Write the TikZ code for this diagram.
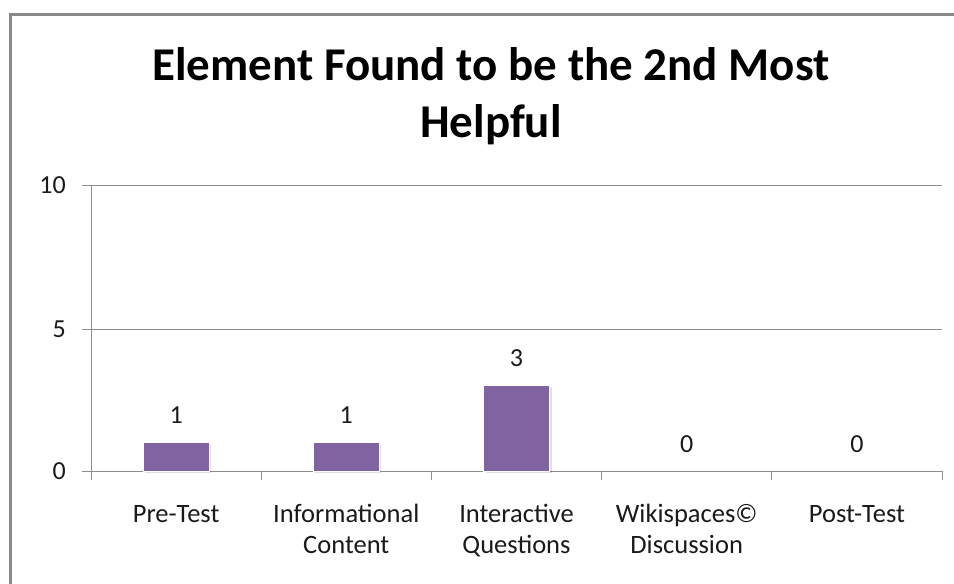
\documentclass[tikz,border=0pt]{standalone}
\usepackage{fontspec}
\setmainfont{Carlito}
\definecolor{barpurple}{HTML}{8064A2}
\definecolor{gridgray}{HTML}{8C8C8C}
\definecolor{framegray}{HTML}{8A8A8A}
\definecolor{txt}{HTML}{1A1A1A}
\begin{document}
\begin{tikzpicture}[x=1pt,y=-1pt,
  frameline/.style={draw=framegray,line width=2.5pt},
  gridline/.style={draw=gridgray,line width=1pt},
  bar/.style={fill=barpurple,draw=white,line width=0.8pt},
  barshadow/.style={fill=black,opacity=0.12,draw=none},
  ticklab/.style={font=\fontsize{26}{30}\selectfont,text=txt,anchor=east,inner sep=0pt},
  vallab/.style={font=\fontsize{26}{30}\selectfont,text=txt,inner sep=0pt},
  catlab/.style={font=\fontsize{26.5}{31.5}\selectfont,text=txt,align=center,anchor=base,inner sep=0pt},
  titlelab/.style={font=\bfseries\fontsize{47}{57}\selectfont,text=black,align=center,anchor=base,inner sep=0pt}]
\useasboundingbox (0,0) rectangle (954,584);
\fill[white] (0,0) rectangle (954,584);
% frame
\coordinate (fbl) at (10.5,590);
\coordinate (ftl) at (10.5,14.5);
\coordinate (ftr) at (960,14.5);
\draw[frameline] (fbl) -- (ftl) -- (ftr);
% title (base anchor = baseline of last line)
\node[titlelab] (title) at (491,137) {Element Found to be the 2nd Most\\Helpful};
% grid
\coordinate (g10l) at (82,185); \coordinate (g10r) at (942,185);
\coordinate (g5l) at (82,329);  \coordinate (g5r) at (942,329);
\coordinate (g0l) at (82,471);  \coordinate (g0r) at (942,471);
\coordinate (yaxt) at (91,185); \coordinate (yaxb) at (91,480);
\draw[gridline] (g10l) -- (g10r);
\draw[gridline] (g5l) -- (g5r);
\draw[gridline] (g0l) -- (g0r);
\draw[gridline] (yaxt) -- (yaxb);
\foreach \i in {1,...,5}{
  \coordinate (tt\i) at ({91+170.2*\i},471);
  \coordinate (tb\i) at ({91+170.2*\i},480);
  \draw[gridline] (tt\i) -- (tb\i);
}
\node[ticklab] (l10) at (66,185) {10};
\node[ticklab] (l5) at (66,329) {5};
\node[ticklab] (l0) at (66,471) {0};
% bars
\foreach \i/\v in {1/1,2/1,3/3,4/0,5/0}{
  \pgfmathsetmacro{\cx}{91+170.2*(\i-0.5)}
  \pgfmathsetmacro{\top}{471-28.5*\v}
  \ifnum\v>0
    \fill[barshadow] (\cx-33+2,\top+1) rectangle (\cx+33+2,472.5);
    \filldraw[bar] (\cx-33,\top) rectangle (\cx+33,471);
  \fi
  \node[vallab] (v\i) at (\cx,\top-27) {\v};
}
% categories
\node[catlab] (c1) at (176.1,522) {Pre-Test};
\node[catlab] (c2) at (346.3,553.5) {Informational\\Content};
\node[catlab] (c3) at (516.5,553.5) {Interactive\\Questions};
\node[catlab] (c4) at (686.7,553.5) {Wikispaces©\\Discussion};
\node[catlab] (c5) at (856.9,522) {Post-Test};
\end{tikzpicture}
\end{document}
